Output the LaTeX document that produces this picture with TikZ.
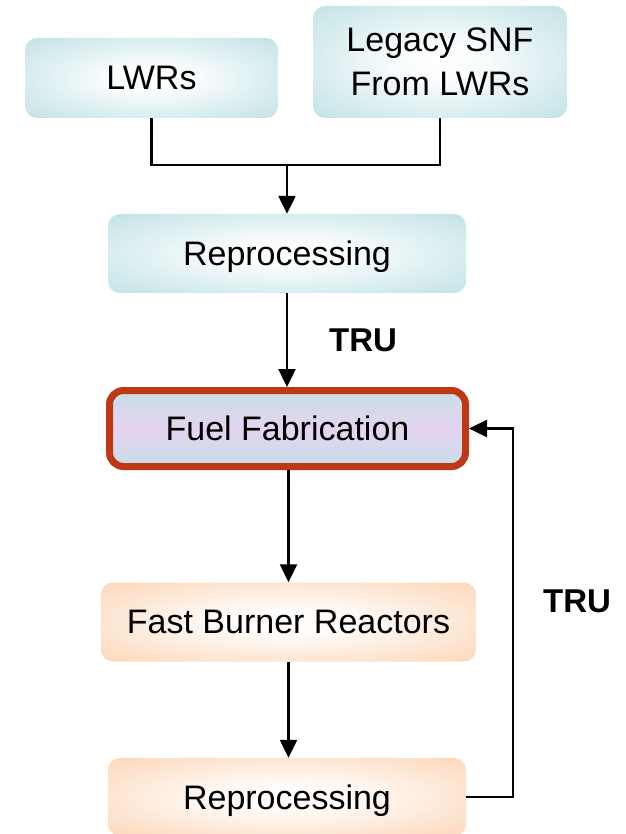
\documentclass[tikz,border=0pt]{standalone}
\usepackage{fontspec}
\setmainfont{Liberation Sans}
\usetikzlibrary{arrows.meta}
\definecolor{cyanE}{RGB}{189,224,228}
\definecolor{peachE}{RGB}{252,212,180}
\definecolor{lavM}{RGB}{230,212,240}
\definecolor{redB}{RGB}{190,56,20}
\pgfdeclareradialshading{cyanrad}{\pgfpoint{0bp}{0bp}}{color(0bp)=(white); color(8bp)=(white!92!cyanE); color(38bp)=(cyanE); color(50bp)=(cyanE)}
\pgfdeclareradialshading{peachrad}{\pgfpoint{0bp}{0bp}}{color(0bp)=(white); color(8bp)=(white!92!peachE); color(38bp)=(peachE); color(50bp)=(peachE)}
\pgfdeclareverticalshading{fuelsh}{100bp}{color(0bp)=(cyanE); color(18bp)=(cyanE); color(50bp)=(lavM); color(82bp)=(cyanE); color(100bp)=(cyanE)}
\tikzset{
  box/.style={rounded corners=12pt, inner sep=0pt, align=center,
    text depth=0pt, font=\fontsize{34}{44}\selectfont},
  cbox/.style={box, shading=cyanrad},
  pbox/.style={box, shading=peachrad},
  fbox/.style={box, shading=fuelsh, draw=redB, line width=7pt, rounded corners=14pt},
  conn/.style={line width=2.4pt, draw=black},
  arr/.style={conn, -{Triangle[length=18pt,width=17pt]}},
  lab/.style={font=\fontsize{33}{38}\selectfont\bfseries, inner sep=0pt}
}
\begin{document}
\begin{tikzpicture}[x=1pt,y=-1pt]
\useasboundingbox (0,0) rectangle (625,834);
\node[cbox, minimum width=253pt, minimum height=80pt] (lwr) at (151.5,78) {LWRs};
\node[cbox, minimum width=254pt, minimum height=112pt] (legacy) at (440,62) {Legacy SNF\\From LWRs};
\node[cbox, minimum width=358pt, minimum height=79pt] (rep1) at (287,253.5) {Reprocessing};
\node[fbox, minimum width=356pt, minimum height=76pt] (fuel) at (287.5,428.5) {Fuel Fabrication};
\node[pbox, minimum width=375pt, minimum height=79pt] (fast) at (288.5,622) {Fast Burner Reactors};
\node[pbox, minimum width=358pt, minimum height=78pt] (rep2) at (287,797) {Reprocessing};
\node[lab] (tru1) at (363,340) {TRU};
\node[lab] (tru2) at (577,601) {TRU};
\coordinate (j) at (287,165);
\coordinate (fb) at (513,797);
\draw[conn] (lwr.south) |- (j) -| (legacy.south);
\draw[arr] (j) -- (rep1.north);
\draw[arr] (rep1.south) -- (rep1.south |- fuel.north);
\draw[arr] (fuel.south -| fast.north) -- (fast.north);
\draw[arr] (fast.south) -- (fast.south |- rep2.north);
\draw[arr] (rep2.east) -- (fb) |- (fuel.east);
\end{tikzpicture}
\end{document}
